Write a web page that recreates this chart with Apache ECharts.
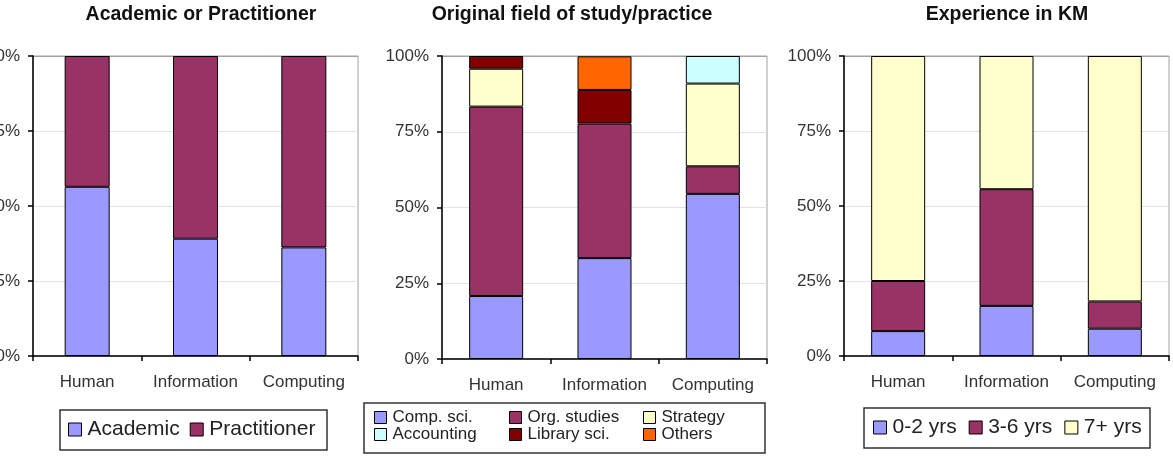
<!DOCTYPE html>
<html>
<head>
<meta charset="utf-8">
<script src="https://cdn.jsdelivr.net/npm/echarts@6/dist/echarts.min.js"></script>
<style>
  html, body { margin: 0; padding: 0; background: #fff; }
</style>
</head>
<body>
<div id="main" style="width:1173px;height:460px"></div>
<script>
// 数据
const categories = ['Human', 'Information', 'Computing'];
const yTicks = ['0%', '25%', '50%', '75%', '100%'];

const academic = [56.4, 39.1, 36.2];
const practitioner = [43.6, 60.9, 63.8];

const compSci = [20.8, 33.3, 54.5];
const orgStudies = [62.5, 44.4, 9.1];
const strategy = [12.5, null, 27.3];
const accounting = [null, null, 9.1];
const librarySci = [4.2, 11.1, null];
const others = [null, 11.1, null];

const yrs0to2 = [8.3, 16.7, 9.1];
const yrs3to6 = [16.7, 38.9, 9.1];
const yrs7plus = [75, 44.4, 81.8];

const FONT = '"Liberation Sans", Arial, sans-serif';
const colors = {
  blue: '#9999FF', plum: '#993366', cream: '#FFFFCC',
  cyan: '#CCFFFF', maroon: '#800000', orange: '#FF6600'
};

const chartDom = document.getElementById('main');
const myChart = echarts.init(chartDom);

// 三个图的坐标系
const grids = [
  { left: 33, top: 56, width: 325, height: 300 },
  { left: 442, top: 56, width: 325, height: 303 },
  { left: 844, top: 56, width: 325, height: 300 }
].map(g => Object.assign(g, {
  show: true, borderColor: '#a0a0a0', borderWidth: 1, backgroundColor: '#fff',
  containLabel: false, outerBoundsMode: 'none'
}));

const xAxes = [0, 1, 2].map(i => ({
  type: 'category',
  gridIndex: i,
  data: categories,
  boundaryGap: true,
  axisLine: { lineStyle: { color: '#000', width: 1.5 } },
  axisTick: { show: true, length: 5, lineStyle: { color: '#000', width: 1.5 } },
  axisLabel: { color: '#333', fontSize: 17, fontFamily: FONT, margin: 18, interval: 0 }
}));

const yAxes = [0, 1, 2].map(i => ({
  type: 'value',
  gridIndex: i,
  min: 0,
  max: 100,
  interval: 25,
  axisLine: { show: true, lineStyle: { color: '#000', width: 1.5 } },
  axisTick: { show: true, length: 5, lineStyle: { color: '#000', width: 1.5 } },
  axisLabel: {
    color: '#333', fontSize: 17, fontFamily: FONT, margin: 13,
    formatter: v => yTicks[Math.round(v / 25)]
  },
  splitLine: { show: true, lineStyle: { color: ['#e2e2e2', '#e2e2e2', '#e2e2e2', '#e2e2e2', '#a0a0a0'], width: 1 } }
}));

function bar(name, data, color, idx, width) {
  return {
    name, type: 'bar', stack: 's' + idx,
    xAxisIndex: idx, yAxisIndex: idx,
    data, barWidth: width,
    itemStyle: { color, borderColor: '#000', borderWidth: 1 },
    animation: false
  };
}

const series = [
  bar('Academic', academic, colors.blue, 0, 45),
  bar('Practitioner', practitioner, colors.plum, 0, 45),

  bar('Comp. sci.', compSci, colors.blue, 1, 54),
  bar('Org. studies', orgStudies, colors.plum, 1, 54),
  bar('Strategy', strategy, colors.cream, 1, 54),
  bar('Accounting', accounting, colors.cyan, 1, 54),
  bar('Library sci.', librarySci, colors.maroon, 1, 54),
  bar('Others', others, colors.orange, 1, 54),

  bar('0-2 yrs', yrs0to2, colors.blue, 2, 54),
  bar('3-6 yrs', yrs3to6, colors.plum, 2, 54),
  bar('7+ yrs', yrs7plus, colors.cream, 2, 54)
];

function legend(names, left, top, size, fontSize, gap) {
  return {
    data: names, left, top, padding: 0,
    icon: 'rect',
    itemWidth: size, itemHeight: size, itemGap: gap,
    itemStyle: { borderColor: '#000', borderWidth: 1 },
    textStyle: { color: '#222', fontSize, fontFamily: FONT, padding: [0, 0, 0, 1] },
    selectedMode: false
  };
}

const legends = [
  legend(['Academic', 'Practitioner'], 68, 419, 13, 21, 10),
  legend(['0-2 yrs', '3-6 yrs', '7+ yrs'], 873, 417, 13, 21, 12),
  legend(['Comp. sci.'], 374, 409, 12, 17, 0),
  legend(['Org. studies'], 509, 409, 12, 17, 0),
  legend(['Strategy'], 643, 409, 12, 17, 0),
  legend(['Accounting'], 374, 426, 12, 17, 0),
  legend(['Library sci.'], 509, 426, 12, 17, 0),
  legend(['Others'], 643, 426, 12, 17, 0)
];

function title(text, x) {
  return {
    type: 'text', x, y: 15,
    style: { text, textAlign: 'center', textVerticalAlign: 'middle', fill: '#111', font: 'bold 19.5px ' + FONT }
  };
}

function box(x, y, w, h) {
  return {
    type: 'rect', shape: { x, y, width: w, height: h }, z: -1,
    style: { fill: '#fff', stroke: '#333', lineWidth: 1.5 }
  };
}

myChart.setOption({
  animation: false,
  grid: grids,
  xAxis: xAxes,
  yAxis: yAxes,
  legend: legends,
  series,
  graphic: [
    title('Academic or Practitioner', 201),
    title('Original field of study/practice', 572),
    title('Experience in KM', 1007),
    box(60, 410, 267, 40),
    box(364, 403, 401, 50),
    box(864, 408, 286, 40)
  ]
});
</script>
</body>
</html>
